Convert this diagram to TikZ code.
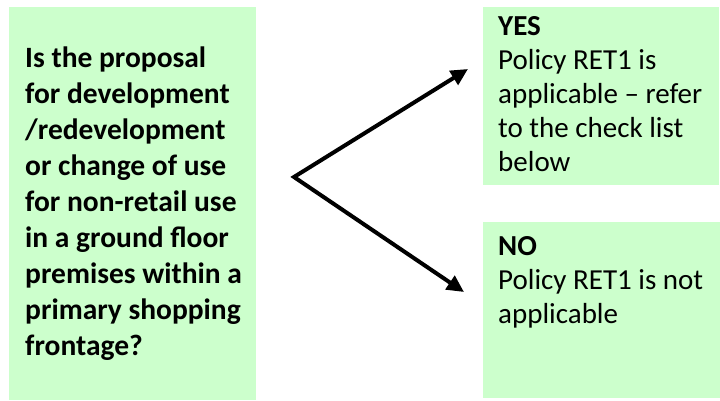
\documentclass[tikz,border=0pt]{standalone}
\usepackage{fontspec}
\setmainfont{Carlito}
\usepackage{tikz}
\usetikzlibrary{positioning,arrows.meta}
\definecolor{boxgreen}{HTML}{CCFFCC}
\tikzset{box/.style = {fill=boxgreen,inner sep=0pt,anchor=north west},
         txt/.style = {inner sep=0pt,align=left,font=\fontsize{29}{34}\selectfont},
         boldtxt/.style = {txt,font=\fontsize{29.5}{36}\selectfont\bfseries},
         arr/.style = {line width=4pt,line join=miter,
                       {Triangle[length=17pt,width=16pt]}-{Triangle[length=17pt,width=16pt]}}}

\begin{document}
\begin{tikzpicture}[x=1pt,y=-1pt]
    \useasboundingbox (0,0) rectangle (720,400);
    \node[box,minimum width=247pt,minimum height=393pt] (question) at (9,7) {};
    \node[box,minimum width=236pt,minimum height=178pt] (yes) at (483,7) {};
    \node[box,minimum width=237pt,minimum height=176pt] (no) at (483,222) {};
    \node[boldtxt,anchor=west] (qtext) at ([xshift=16pt]question.west)
        {Is the proposal\\for development\\/redevelopment\\or change of use\\for non-retail use\\in a ground floor\\premises within a\\primary shopping\\frontage?};
    \node[txt,anchor=north west] (yestext) at ([xshift=15pt,yshift=-9pt]yes.north west)
        {\textbf{YES}\\Policy RET1 is\\applicable -- refer\\to the check list\\below};
    \node[txt,anchor=north west] (notext) at ([xshift=15pt,yshift=-14pt]no.north west)
        {\textbf{NO}\\Policy RET1 is not\\applicable};
    \coordinate (fork) at (294,177);
    \coordinate (yestip) at (468,69);
    \coordinate (notip) at (464,292);
    \draw[arr] (yestip) -- (fork) -- (notip);
\end{tikzpicture}
\end{document}
